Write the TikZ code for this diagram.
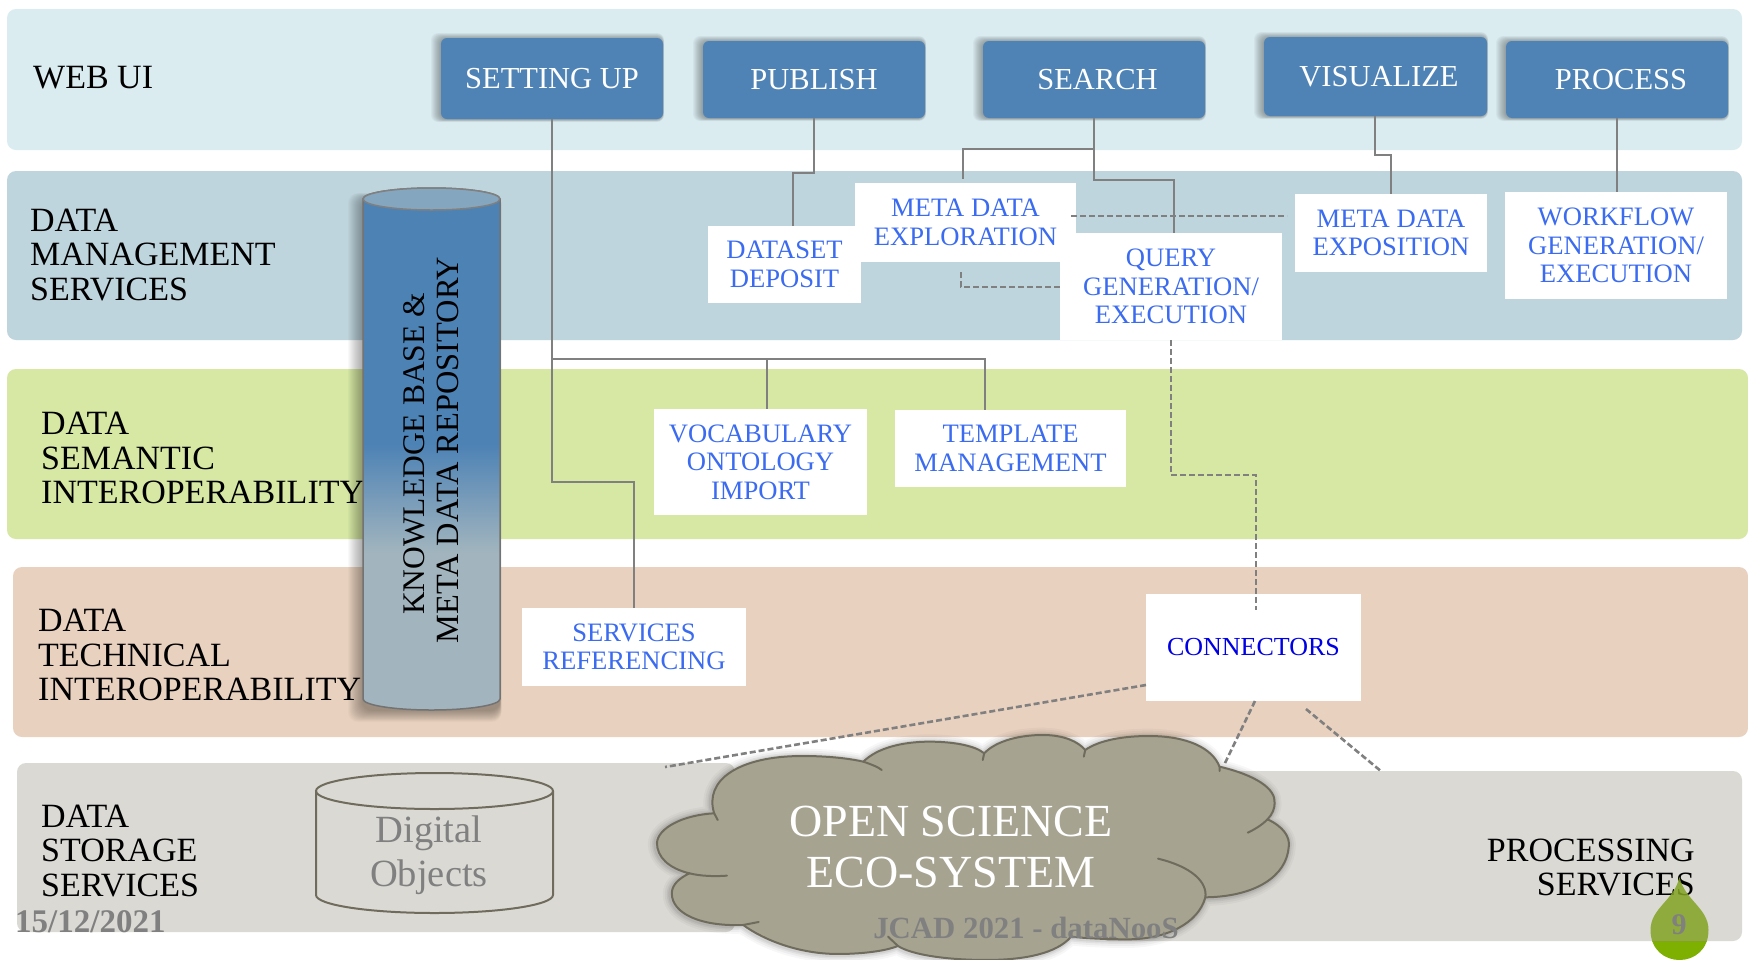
\documentclass[tikz,border=0pt]{standalone}
\usepackage{fontspec}
\setmainfont{Liberation Serif}
\usetikzlibrary{calc}
\definecolor{bweb}{HTML}{DAECF0}
\definecolor{bdm}{HTML}{BFD5DD}
\definecolor{bgreen}{HTML}{D6E8A3}
\definecolor{bbeige}{HTML}{E9D1BF}
\definecolor{bgray}{HTML}{DAD9D4}
\definecolor{btn}{HTML}{4F83B6}
\definecolor{lbl}{HTML}{3A6BF0}
\definecolor{clouf}{HTML}{A6A391}
\definecolor{cloud}{HTML}{6F6C5D}
\definecolor{linec}{HTML}{808080}
\definecolor{kbtop}{HTML}{4D82B5}
\definecolor{kbbot}{HTML}{A2B5BE}
\definecolor{kbcap}{HTML}{84A6BF}
\definecolor{dropa}{HTML}{7DB000}
\definecolor{dropb}{RGB}{131,164,35}
\pgfdeclareverticalshading{kbshade}{100bp}{color(0bp)=(kbbot); color(40bp)=(kbbot); color(50.5bp)=(kbtop); color(100bp)=(kbtop)}
\tikzset{
  x=1pt,y=-1pt,
  band/.style={rounded corners=9pt,inner sep=0pt},
  btnbox/.style={fill=btn,rounded corners=6pt,text=white,font=\fontsize{30.5}{33}\selectfont,align=center,inner sep=0pt},
  lblbox/.style={fill=white,text=lbl,font=\fontsize{26.6}{28.5}\selectfont,align=center,inner sep=0pt},
  head/.style={anchor=west,align=left,font=\fontsize{34}{34.5}\selectfont,text=black,inner sep=0pt},
  solidl/.style={draw=linec,line width=2.8pt},
  dashl/.style={draw=linec,line width=2.6pt,dash pattern=on 6pt off 3pt},
  footer/.style={text=linec,font=\fontsize{33}{35}\selectfont\bfseries,inner sep=0pt},
}
% name, x1, y1, x2, y2, style, text
\newcommand{\boxn}[7]{%
  \node[#6,minimum width={(#4-#2)*1pt},minimum height={(#5-#3)*1pt}] (#1) at ({(#2+#4)/2},{(#3+#5)/2}) {#7};}
\newcommand{\softshadow}[4]{%
  \foreach \w in {10,9,8,7,6,5,4,3,2,1}{\fill[black,opacity=0.035,rounded corners=7pt] (#1-\w,#2-0.6*\w+1) rectangle (#3+0.1*\w,#4+0.3*\w);}}
\newcommand{\cloudoutline}{
  (105,460) .. controls (90,360) and (140,288) .. (230,288)
  .. controls (265,288) and (295,295) .. (316,305)
  .. controls (335,265) and (370,245) .. (410,245)
  .. controls (445,245) and (475,258) .. (487,280)
  .. controls (505,240) and (540,225) .. (570,225)
  .. controls (600,225) and (620,245) .. (630,270)
  .. controls (650,240) and (685,228) .. (720,228)
  .. controls (775,228) and (810,265) .. (820,320)
  .. controls (870,345) and (900,385) .. (898,430)
  .. controls (898,445) and (895,462) .. (888,478)
  .. controls (910,500) and (920,530) .. (918,560)
  .. controls (915,650) and (870,710) .. (800,712)
  .. controls (790,790) and (745,838) .. (690,838)
  .. controls (660,838) and (630,835) .. (610,830)
  .. controls (590,880) and (545,900) .. (490,900)
  .. controls (435,900) and (385,885) .. (365,858)
  .. controls (345,875) and (310,882) .. (280,882)
  .. controls (225,882) and (175,840) .. (146,795)
  .. controls (85,800) and (45,760) .. (45,700)
  .. controls (45,675) and (55,655) .. (70,640)
  .. controls (40,625) and (24,590) .. (24,549)
  .. controls (25,505) and (60,465) .. (105,460) -- cycle}
\begin{document}
\begin{tikzpicture}
\useasboundingbox (0,0) rectangle (1748,959);
\fill[white] (0,0) rectangle (1748,959);
% bands
\boxn{bandweb}{7}{9}{1742}{150}{band,fill=bweb}{}
\boxn{banddm}{7}{171}{1742}{340}{band,fill=bdm}{}
\boxn{bandsem}{7}{369}{1748}{539}{band,fill=bgreen}{}
\boxn{bandtech}{13}{567}{1748}{737}{band,fill=bbeige}{}
\boxn{bandstore}{17}{763}{735}{932}{band,fill=bgray}{}
\boxn{bandproc}{1100}{771}{1742}{941}{band,fill=bgray}{}
% heads
\node[head] (hweb) at (33,78) {WEB UI};
\node[head] (hdm) at (30,255) {DATA\\MANAGEMENT\\SERVICES};
\node[head] (hsem) at (41,458) {DATA\\SEMANTIC\\INTEROPERABILITY};
\node[head] (htech) at (38,655) {DATA\\TECHNICAL\\INTEROPERABILITY};
\node[head] (hstore) at (41,851) {DATA\\STORAGE\\SERVICES};
\node[head,anchor=east,align=right] (hproc) at (1695,867.5) {PROCESSING\\SERVICES};
% button shadows
\softshadow{441}{38}{663}{119}
\softshadow{703}{41}{925}{118}
\softshadow{983}{41}{1205}{118}
\softshadow{1264}{37}{1487}{116}
\softshadow{1506}{41}{1728}{118}
% buttons
\boxn{setting}{441}{38}{663}{119}{btnbox}{SETTING UP}
\boxn{publish}{703}{41}{925}{118}{btnbox}{PUBLISH}
\boxn{search}{983}{41}{1205}{118}{btnbox}{\hspace*{7pt}SEARCH}
\boxn{visualize}{1264}{37}{1487}{116}{btnbox}{\hspace*{7pt}VISUALIZE}
\boxn{process}{1506}{41}{1728}{118}{btnbox}{\hspace*{8pt}PROCESS}
% connector free points
\coordinate (pubA) at (814,173);
\coordinate (pubB) at (793,173);
\coordinate (pubC) at (793,229);
\coordinate (seaA) at (1094,149);
\coordinate (seaB) at (963,149);
\coordinate (seaC) at (963,179);
\coordinate (seaD) at (1094,180);
\coordinate (seaE) at (1174,180);
\coordinate (seaF) at (1174,236);
\coordinate (visA) at (1375,155);
\coordinate (visB) at (1391,155);
\coordinate (visC) at (1391,196);
\coordinate (proC) at (1617,194);
\coordinate (setA) at (552,482);
\coordinate (setB) at (634,482);
\coordinate (setC) at (552,359);
\coordinate (setD) at (985,359);
\coordinate (setE) at (767,359);
% solid connectors below label boxes
\draw[solidl] (publish.south) -- (pubA) -- (pubB) -- (pubC);
\draw[solidl] (search.south) -- (seaA) -- (seaB) -- (seaC);
\draw[solidl] (seaA) -- (seaD) -- (seaE) -- (seaF);
\draw[solidl] (visualize.south -| visA) -- (visA) -- (visB) -- (visC);
\draw[solidl] (process.south) -- (proC);
% label boxes
\boxn{dataset}{708}{226}{861}{303}{lblbox}{DATASET\\DEPOSIT}
\boxn{metaexp}{855}{183}{1076}{262}{lblbox}{META DATA\\EXPLORATION}
\boxn{query}{1060}{233}{1282}{340}{lblbox}{QUERY\\GENERATION/\\EXECUTION}
\boxn{metapos}{1295}{194}{1487}{272}{lblbox}{META DATA\\EXPOSITION}
\boxn{workflow}{1505}{192}{1727}{299}{lblbox}{WORKFLOW\\GENERATION/\\EXECUTION}
\boxn{vocab}{654}{409}{867}{515}{lblbox}{VOCABULARY\\ONTOLOGY\\IMPORT}
\boxn{template}{895}{410}{1126}{487}{lblbox}{TEMPLATE\\MANAGEMENT}
\boxn{services}{522}{608}{746}{686}{lblbox}{SERVICES\\REFERENCING}
\boxn{connectors}{1146}{594}{1361}{701}{lblbox,text=blue!90!black,font=\fontsize{26}{28}\selectfont}{CONNECTORS}
\draw[solidl] (setting.south -| setC) -- (setA) -- (setB) -- (services.north -| setB);
\draw[solidl] (setC) -- (setD) -- (template.north -| setD);
\draw[solidl] (setE) -- (vocab.north -| setE);
% dashed connectors
\coordinate (dA) at (1071,216);
\coordinate (dB) at (1287,216);
\draw[dashl] (dA) -- (dB);
\coordinate (dC) at (1060,287);
\coordinate (dD) at (961,287);
\coordinate (dE) at (961,270);
\draw[dashl] (dC) -- (dD) -- (dE);
\coordinate (dF) at (1171,475);
\coordinate (dG) at (1256,475);
\coordinate (dH) at (1256,610);
\draw[dashl] (query.south) -- (dF) -- (dG) -- (dH);
\coordinate (dI) at (1146,685);
\coordinate (dJ) at (665,767);
\draw[dashl] (dI) -- (dJ);
\coordinate (dK) at (1255,701);
\coordinate (dL) at (1225,763);
\draw[dashl] (dK) -- (dL);
\coordinate (dM) at (1306,709);
\coordinate (dN) at (1382,772);
\draw[dashl] (dM) -- (dN);
% knowledge cylinder
\foreach \w in {15,14,13,12,11,10,9,8,7,6,5,4,3,2,1}{\fill[black,opacity=0.024,rounded corners=10pt] (363-\w,199-0.4*\w) rectangle (500+0.1*\w,710+0.8*\w);}
\shade[shading=kbshade,draw=linec!90!black,line width=1.5pt]
  (363,199) -- (363,699) arc[start angle=180,end angle=360,x radius=68.5pt,y radius=11pt] -- (500,199) arc[start angle=0,end angle=-180,x radius=68.5pt,y radius=-11pt] -- cycle;
\filldraw[fill=kbcap,draw=linec,line width=1.5pt] (431.5,199) ellipse[x radius=68.5pt,y radius=11pt];
\node[rotate=90,align=center,inner sep=0pt,font=\fontsize{32.4}{34.5}\selectfont,text=black] (kb) at (431,450) {\fontsize{31.5}{34.5}\selectfont\hspace*{-8pt}KNOWLEDGE BASE \&\\META DATA REPOSITORY};
% digital objects cylinder
\draw[draw=cloud,line width=2pt,fill=bgray]
  (316,791) -- (316,895) arc[start angle=180,end angle=360,x radius=118.5pt,y radius=18pt] -- (553,791);
\draw[draw=cloud,line width=2pt] (434.5,791) ellipse[x radius=118.5pt,y radius=18pt];
\node[align=center,inner sep=0pt,text=linec,font=\fontsize{38.5}{44}\selectfont] (digital) at (429,855.5) {Digital\\Objects};
% cloud
\begin{scope}[shift={(640,660)},x=0.7067pt,y=-0.3333pt]
  \begin{scope}[shift={(-1.5,2)}]
  \foreach \w/\o in {16/0.03,12/0.04,8/0.05,5/0.06}{
    \draw[black,opacity=\o,line width=\w pt,line join=round] \cloudoutline;}
  \end{scope}
  \filldraw[fill=clouf,draw=cloud,line width=2pt,line join=round] \cloudoutline;
  \draw[draw=cloud,line width=2pt,line cap=round]
    (70,640) .. controls (85,648) and (105,650) .. (123,647)
    (316,305) .. controls (326,312) and (338,322) .. (342,330)
    (487,280) -- (485,300)
    (630,270) -- (628,290)
    (820,320) -- (820,333)
    (888,478) .. controls (880,495) and (870,508) .. (860,518)
    (733,596) .. controls (780,620) and (803,665) .. (800,712)
    (105,460) -- (110,480)
    (146,795) -- (168,786)
    (365,858) -- (351,830);
\end{scope}
\node[align=center,inner sep=0pt,text=white,font=\fontsize{46}{51}\selectfont] (open) at (951,847) {OPEN SCIENCE\\ECO-SYSTEM};
% drop
\begin{scope}
  \clip (1640,941) rectangle (1720,965);
  \fill[dropa] (1679.5,877) .. controls (1674.5,900) and (1650.5,908) .. (1650.5,930) .. controls (1650.5,970) and (1708.5,970) .. (1708.5,930) .. controls (1708.5,908) and (1684.5,900) .. (1679.5,877) -- cycle;
\end{scope}
\begin{scope}
  \clip (1640,870) rectangle (1720,941);
  \fill[dropb,opacity=0.85] (1679.5,877) .. controls (1674.5,900) and (1650.5,908) .. (1650.5,930) .. controls (1650.5,970) and (1708.5,970) .. (1708.5,930) .. controls (1708.5,908) and (1684.5,900) .. (1679.5,877) -- cycle;
\end{scope}
\node[footer,font=\fontsize{30}{32}\selectfont\bfseries] (num) at (1679,925) {9};
\node[footer,anchor=west] (date) at (15,922) {15/12/2021};
\node[footer,font=\fontsize{30.8}{33}\selectfont\bfseries] (jcad) at (1026,928) {JCAD 2021 - dataNooS};
\end{tikzpicture}
\end{document}
